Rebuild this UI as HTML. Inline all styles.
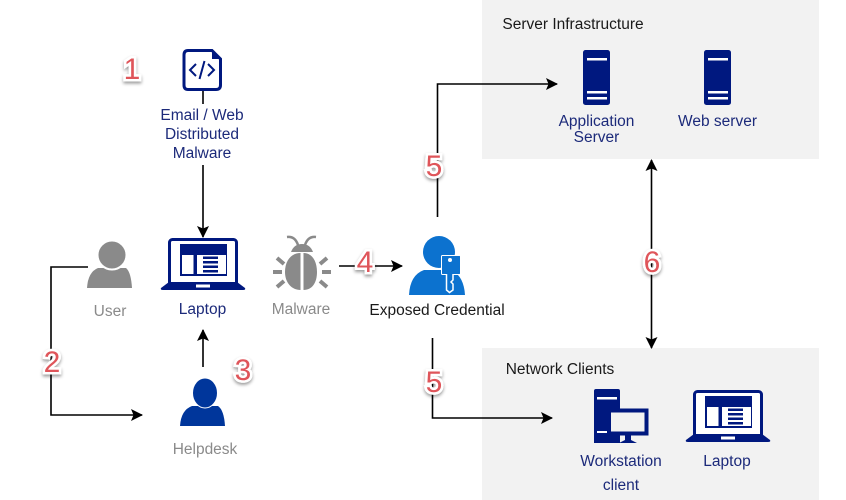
<!DOCTYPE html>
<html><head><meta charset="utf-8"><style>
html,body{margin:0;padding:0;background:#fff}
svg{display:block}
text{font-family:"Liberation Sans",sans-serif;font-size:15.5px;text-anchor:middle}
.b{fill:#1c2a7a}.g{fill:#8a8a8a}.k{fill:#1a1a1a}
.n{font-size:30px;fill:#df555a;stroke:#fff;stroke-width:5px;paint-order:stroke;filter:url(#s)}
.l{stroke:#000;stroke-width:1.6;fill:none}
</style></head><body>
<svg width="846" height="500" viewBox="0 0 846 500" xmlns="http://www.w3.org/2000/svg">
<defs>
<filter id="s" x="-50%" y="-50%" width="200%" height="200%"><feDropShadow dx="0" dy="2" stdDeviation="1.5" flood-color="#000" flood-opacity=".4"/></filter>
<marker id="a" markerWidth="14" markerHeight="14" refX="11" refY="6" orient="auto-start-reverse" markerUnits="userSpaceOnUse"><path d="M0 0L12 6L0 12L2.500 6Z" fill="#000"/></marker>
<g id="lap">
<rect x="8.500" y="1.500" width="67" height="46" rx="3" fill="#fff" stroke="#00187f" stroke-width="3"/>
<path d="M8 44H76L84 50Q85 52 82 52H2Q-1 52 0 50Z" fill="#00187f"/>
<rect x="35" y="46.500" width="14" height="3" fill="#fff"/>
<rect x="19" y="6" width="47" height="32" fill="#00187f"/>
<rect x="21" y="17" width="11.500" height="19" fill="#fff"/>
<rect x="36" y="17" width="29" height="19" fill="#fff"/>
<path d="M42 18.500h15v2.500H42zM42 23h15v2.500H42zM42 27.500h15V30H42zM42 32h15v2.500H42z" fill="#00187f"/>
</g>
<g id="srv">
<rect width="27" height="55" rx="2.500" fill="#00187f"/>
<rect x="4" y="8" width="20" height="2.500" fill="#fff"/>
<rect x="4" y="41" width="20" height="2.500" fill="#fff"/>
<rect x="4" y="47" width="20" height="2.500" fill="#fff"/>
</g>
</defs>

<rect x="482" y="0" width="337" height="159" fill="#f2f2f2"/>
<rect x="482" y="348" width="337" height="152" fill="#f2f2f2"/>

<!-- connectors -->
<path class="l" d="M203 91V104"/>
<path class="l" d="M203 165V237" marker-end="url(#a)"/>
<path class="l" d="M88 267H51V415H142" marker-end="url(#a)"/>
<path class="l" d="M203 367V330" marker-end="url(#a)"/>
<path class="l" d="M339 266H402" marker-end="url(#a)"/>
<path class="l" d="M437.500 217V84H557" marker-end="url(#a)"/>
<path class="l" d="M432.500 338V418H552" marker-end="url(#a)"/>
<path class="l" d="M651.500 160V348" marker-start="url(#a)" marker-end="url(#a)"/>

<!-- file icon -->
<path d="M188 50.500H212L220.500 59V85Q220.500 89.500 216 89.500H188Q184 89.500 184 85V55Q184 50.500 188 50.500Z" fill="#fff" stroke="#00187f" stroke-width="3"/>
<path d="M212 50L221 59H212Z" fill="#00187f"/>
<path d="M196 64L190 70L196 76M208 64L214 70L208 76M204.500 61L199.500 79" fill="none" stroke="#00187f" stroke-width="2"/>
<text class="b" x="202" y="120">Email / Web</text>
<text class="b" x="202" y="139">Distributed</text>
<text class="b" x="202" y="158">Malware</text>

<!-- laptop -->
<use href="#lap" x="161" y="238"/>
<text class="b" x="202.500" y="314">Laptop</text>

<!-- user -->
<path d="M87 288Q88 272 98 268H126Q131 272 132 288Z" fill="#8a8a8a"/>
<circle cx="112" cy="255" r="14.500" fill="#8a8a8a" stroke="#fff" stroke-width="2"/>
<text class="g" x="110" y="316">User</text>

<!-- malware bug -->
<g fill="#8a8a8a">
<path d="M300.500 253C291 253 285 261 285 272C285 283 292 290 300.500 290ZM303.500 253V290C312 290 317 283 317 272C317 261 312 253 303.500 253Z"/>
<path d="M291 252Q294 244 302 244Q310 244 313 252Z"/>
<path d="M287 237Q295 236 298 245M316 237Q308 236 305 245" fill="none" stroke="#8a8a8a" stroke-width="2.500"/>
<path d="M277 258l7 6M327 258l-7 6M273 272h9M322 272h9M277 287l7-6M327 287l-7-6" stroke="#8a8a8a" stroke-width="4" fill="none"/>
</g>
<text class="g" x="301" y="314">Malware</text>

<!-- helpdesk -->
<path d="M180 426Q181 410 192 406H218Q224 410 225 426Z" fill="#00369b"/>
<ellipse cx="205" cy="393" rx="12.500" ry="15" fill="#00369b" stroke="#fff" stroke-width="1"/>
<text class="g" x="205" y="454">Helpdesk</text>

<!-- exposed credential -->
<path d="M409 295Q410 275 424 270H452Q464 277 465 295Z" fill="#0c72cf"/>
<circle cx="439" cy="252" r="16" fill="#0c72cf"/>
<rect x="441.500" y="255.500" width="19" height="19" rx="1" fill="#0c72cf" stroke="#fff" stroke-width="1"/>
<circle cx="450" cy="260" r="2" fill="#fff"/>
<path d="M446.500 274V290L449.500 292.500L453 290V284L451 282L453 280V274" fill="#0c72cf" stroke="#fff" stroke-width="1.500"/>
<text class="k" x="437" y="315">Exposed Credential</text>

<!-- server infrastructure -->
<text class="k" x="573" y="29">Server Infrastructure</text>
<use href="#srv" x="583" y="50"/>
<use href="#srv" x="704" y="50"/>
<text class="b" x="596.500" y="126">Application</text>
<text class="b" x="596.500" y="142">Server</text>
<text class="b" x="717.500" y="126">Web server</text>

<!-- network clients -->
<text class="k" x="560" y="374">Network Clients</text>
<path d="M596 389H618Q620 389 620 391V409H609V435H620V443H594V391Q594 389 596 389Z" fill="#00187f"/>
<rect x="597" y="397" width="20" height="2.500" fill="#fff"/>
<rect x="597" y="431" width="10" height="2" fill="#fff"/>
<rect x="609" y="410.500" width="37.500" height="23" fill="#f2f2f2" stroke="#00187f" stroke-width="4"/>
<path d="M625 435h6v5l6 3h-18l6-3Z" fill="#00187f"/>
<use href="#lap" x="686" y="390"/>
<text class="b" x="621" y="466">Workstation</text>
<text class="b" x="621" y="490">client</text>
<text class="b" x="727" y="466">Laptop</text>

<!-- numbers -->
<text class="n" x="132" y="79">1</text>
<text class="n" x="52" y="372">2</text>
<text class="n" x="243" y="380">3</text>
<text class="n" x="365" y="272">4</text>
<text class="n" x="434" y="176">5</text>
<text class="n" x="434" y="392">5</text>
<text class="n" x="652" y="272">6</text>
</svg>
</body></html>
